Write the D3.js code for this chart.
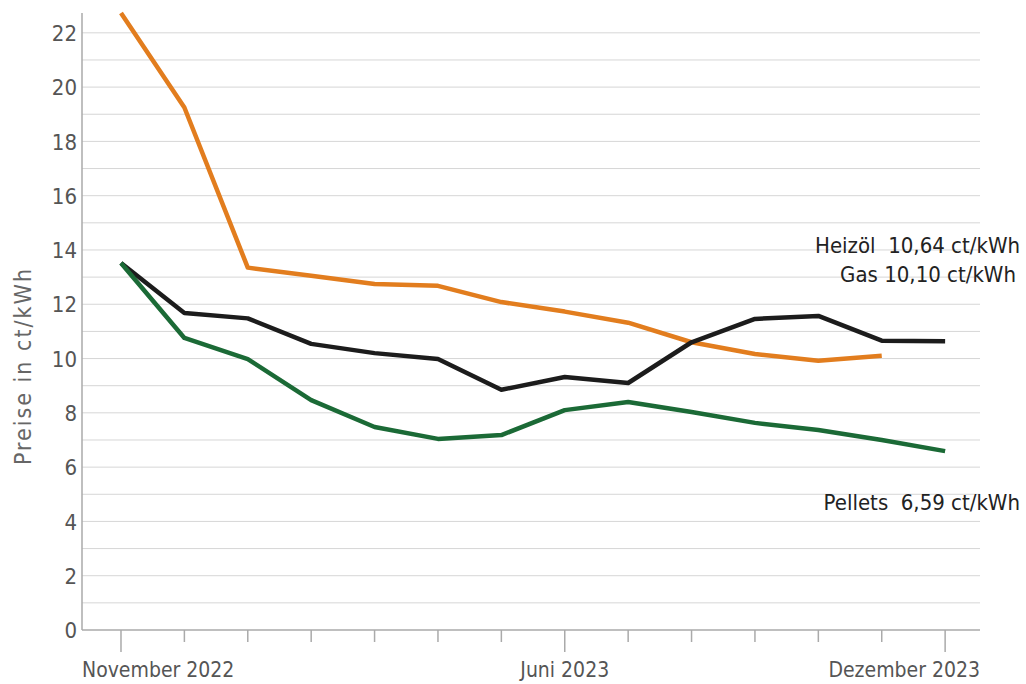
<!DOCTYPE html>
<html>
<head>
<meta charset="utf-8">
<script src="https://cdn.jsdelivr.net/npm/d3@7"></script>
<style>
  body { margin: 0; background: #fff; }
  svg text { font-family: "Liberation Sans Narrow", "DejaVu Sans Condensed", "Roboto", sans-serif; }
</style>
</head>
<body>
<svg id="chart" width="1026" height="684"></svg>
<script>
// months Nov 2022 .. Dec 2023
const months = ["Nov 22", "Dez 22", "Jan 23", "Feb 23", "Mär 23", "Apr 23", "Mai 23",
  "Jun 23", "Jul 23", "Aug 23", "Sep 23", "Okt 23", "Nov 23", "Dez 23"];
const gas = [22.73, 19.25, 13.35, 13.05, 12.75, 12.68, 12.08, 11.73, 11.32, 10.6, 10.17, 9.92, 10.10];
const heizoel = [13.52, 11.68, 11.48, 10.54, 10.2, 9.98, 8.85, 9.32, 9.1, 10.6, 11.46, 11.57, 10.66, 10.64];
const pellets = [13.52, 10.76, 9.98, 8.47, 7.48, 7.04, 7.18, 8.1, 8.4, 8.03, 7.63, 7.37, 7.0, 6.59];
const yTicks = [0, 2, 4, 6, 8, 10, 12, 14, 16, 18, 20, 22];
const xLabels = [{ i: 0, text: "November 2022", anchor: "start" },
  { i: 7, text: "Juni 2023", anchor: "middle" },
  { i: 13, text: "Dezember 2023", anchor: "end" }];

const series = [
  { name: "Gas", values: gas, color: "#e27d1e" },
  { name: "Heizöl", values: heizoel, color: "#1c1c1c" },
  { name: "Pellets", values: pellets, color: "#1b6a36" }
];

const svg = d3.select("#chart");
const mLeft = 82, mRight = 980, mTop = 13, mBottom = 630;

const x = d3.scaleLinear().domain([-0.615, 13.55]).range([mLeft, mRight]);
const y = d3.scaleLinear().domain([0, 22.73]).range([mBottom, mTop]);

// gridlines every 1 unit
svg.append("g")
  .selectAll("line")
  .data(d3.range(1, 23))
  .join("line")
  .attr("x1", mLeft).attr("x2", mRight)
  .attr("y1", d => y(d)).attr("y2", d => y(d))
  .attr("stroke", "#d6d6d6")
  .attr("stroke-width", 1);

// y axis
const yAxis = svg.append("g")
  .attr("transform", `translate(${mLeft},0)`)
  .call(d3.axisLeft(y).tickValues(yTicks).tickSize(0).tickPadding(5));
yAxis.select(".domain").remove();
yAxis.selectAll("text")
  .attr("fill", "#555")
  .style("font-size", "22px")
  .attr("dy", "0.35em");

svg.append("line")
  .attr("x1", mLeft).attr("x2", mLeft)
  .attr("y1", mTop).attr("y2", mBottom)
  .attr("stroke", "#aaa").attr("stroke-width", 1.5);

// x axis
svg.append("line")
  .attr("x1", mLeft).attr("x2", mRight)
  .attr("y1", mBottom).attr("y2", mBottom)
  .attr("stroke", "#aaa").attr("stroke-width", 1.5);

const major = new Set(xLabels.map(d => d.i));
svg.append("g")
  .selectAll("line")
  .data(months.map((m, i) => i))
  .join("line")
  .attr("x1", d => x(d)).attr("x2", d => x(d))
  .attr("y1", mBottom)
  .attr("y2", d => mBottom + (major.has(d) ? 22 : 12))
  .attr("stroke", "#aaa").attr("stroke-width", 1.5);

svg.append("g")
  .selectAll("text")
  .data(xLabels)
  .join("text")
  .attr("x", d => d.anchor === "start" ? mLeft : d.anchor === "end" ? mRight : x(d.i))
  .attr("y", 677)
  .attr("text-anchor", d => d.anchor)
  .attr("fill", "#555")
  .style("font-size", "21px")
  .text(d => d.text);

// y axis title
svg.append("text")
  .attr("transform", "rotate(-90)")
  .attr("x", -366)
  .attr("y", 31)
  .attr("text-anchor", "middle")
  .attr("fill", "#666")
  .style("font-size", "23px")
  .style("letter-spacing", "2px")
  .text("Preise in ct/kWh");

// lines
const line = d3.line().x((d, i) => x(i)).y(d => y(d));
svg.append("g")
  .selectAll("path")
  .data(series)
  .join("path")
  .attr("d", d => line(d.values))
  .attr("fill", "none")
  .attr("stroke", d => d.color)
  .attr("stroke-width", 4.5)
  .attr("stroke-linejoin", "round");

// end labels
const labels = [
  { text: "Heizöl  10,64 ct/kWh", x: 1020, y: 253 },
  { text: "Gas 10,10 ct/kWh", x: 1016, y: 282 },
  { text: "Pellets  6,59 ct/kWh", x: 1020, y: 510 }
];
svg.append("g")
  .selectAll("text")
  .data(labels)
  .join("text")
  .attr("x", d => d.x)
  .attr("y", d => d.y)
  .attr("text-anchor", "end")
  .attr("fill", "#222")
  .style("font-size", "22px")
  .style("white-space", "pre")
  .text(d => d.text);
</script>
</body>
</html>
